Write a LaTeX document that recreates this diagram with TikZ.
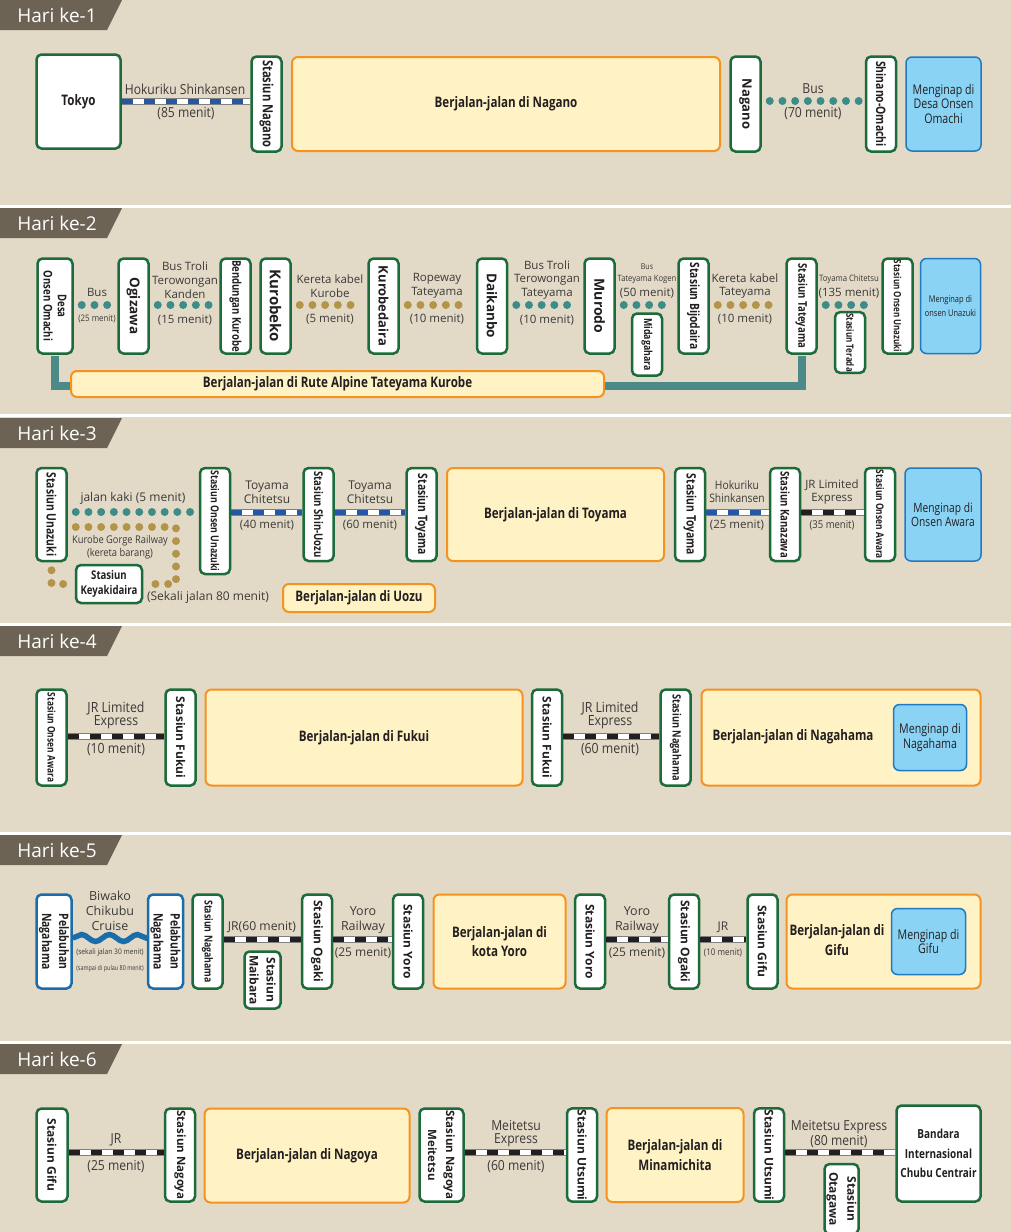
\documentclass[tikz,border=0pt]{standalone}
\usepackage{fontspec}
\setmainfont{Open Sans}
\newfontfamily\condfont[FakeStretch=0.8]{Open Sans}
\newfontfamily\narrowfont[FakeStretch=0.88]{Open Sans}
\usetikzlibrary{positioning}
\usetikzlibrary{decorations.pathmorphing}
\newcommand\fsz[1]{\fontsize{#1}{#1}\selectfont\setlength\baselineskip{1.2\baselineskip}}
\newcommand\fszl[2]{\fontsize{#1}{#2}\selectfont}
\definecolor{bgbeige}{HTML}{E2DAC7}
\definecolor{tabfill}{HTML}{6D6355}
\definecolor{stgreen}{HTML}{1C6B3B}
\definecolor{boxtext}{HTML}{231F20}
\definecolor{labeltext}{HTML}{3C3A38}
\definecolor{tourline}{HTML}{F6921E}
\definecolor{tourfill}{HTML}{FFF2C4}
\definecolor{stayline}{HTML}{2179C1}
\definecolor{stayfill}{HTML}{8AD3F4}
\definecolor{busteal}{HTML}{3D8C88}
\definecolor{gorgegold}{HTML}{B39449}
\definecolor{shinkblue}{HTML}{2557A4}
\definecolor{railgrey}{HTML}{808080}
\definecolor{railblack}{HTML}{231F20}
\definecolor{portblue}{HTML}{1B6DAA}
\definecolor{alpteal}{HTML}{4B8A87}
\tikzset{
    stn/.style = {draw=stgreen, line width=2.5pt, fill=white, rounded corners=5pt, inner sep=1pt, align=center, text=boxtext, font=\condfont\bfseries\fsz{#1}},
    stn/.default = 13,
    wstn/.style = {stn, font=\bfseries\fsz{#1}},
    wstn/.default = 12,
    vstn/.style = {stn=#1, rotate=-90, minimum width=95, minimum height=30},
    vstn/.default = 13,
    vwstn/.style = {wstn=#1, rotate=-90, minimum width=95, minimum height=30},
    vwstn/.default = 12,
    tour/.style = {draw=tourline, line width=2pt, fill=tourfill, rounded corners=6pt, align=center, text=boxtext, font=\condfont\bfseries\fszl{14.5}{19.5}},
    tourtxt/.style = {align=center, text=boxtext, font=\condfont\bfseries\fszl{14.5}{19.5}},
    stay/.style = {draw=stayline, line width=1.5pt, fill=stayfill, rounded corners=6pt, align=center, text=boxtext, font=\condfont\fszl{#1}{14.5}},
    stay/.default = 13.3,
    lbl/.style = {text=labeltext, align=center, inner sep=0pt, font=\fsz{#1}},
    lbl/.default = 11.5,
    clbl/.style = {text=labeltext, align=center, inner sep=0pt, font=\narrowfont\fszl{#1}{13}},
    clbl/.default = 13.8,
    daytab/.style = {text=white, inner sep=0pt, font=\fsz{19}},
    bus/.style = {draw=busteal, line width=8pt, line cap=round, dash pattern=on 0pt off 12.7pt, shorten <=8pt, shorten >=6pt},
    gorge/.style = {bus, draw=gorgegold},
    shink/.style = {draw=shinkblue, line width=5pt, dash pattern=on 11pt off 11pt,
        preaction={draw=railgrey, solid, line width=7pt},
        preaction={draw=white, solid, line width=5pt}},
    jr/.style = {shink, draw=railblack},
    wave/.style = {draw=portblue, line width=5.5pt, decorate, decoration={snake, segment length=28pt, amplitude=3.5pt}},
    alpine/.style = {draw=alpteal, line width=8pt, shorten <=1.2pt, shorten >=1.2pt}
}
\begin{document}
\begin{tikzpicture}[x=1pt, y=-1pt]
\useasboundingbox (0,0) rectangle (1011,1232);
\fill[bgbeige] (0,0) rectangle (1011,1232);
\foreach \y in {205,414,623,832,1041}
  \fill[white] (0,\y) rectangle (1011,\y+3);
% day tabs
\foreach \d/\y in {1/0,2/208,3/418,4/626,5/835,6/1044}{
  \fill[tabfill] (0,\y) -- (122,\y) -- (107,\y+30) -- (0,\y+30) -- cycle;
  \node[daytab] (hari\d) at (57,\y+15) {Hari ke-\d};
}

% day 1
\coordinate (r1) at (0,101);
\node[stn=14.5, minimum width=84, minimum height=94] (tokyo) at (78.5,101.5) {Tokyo};
\node[vstn=14] (ngnst) at (266.5,104) {Stasiun Nagano};
\node[tour, minimum width=428, minimum height=94] (tngn) at (506,104) {Berjalan-jalan di Nagano};
\node[vwstn=13] (ngn) at (745.5,104) {Nagano};
\node[vstn] (shom) at (881,104) {Shinano-Omachi};
\node[stay, minimum width=75, minimum height=94] (stay1) at (943.5,104) {Menginap di\\Desa Onsen\\Omachi};
\draw[shink] (tokyo.east |- r1) -- (ngnst.south |- r1);
\draw[bus] (ngn.north |- r1) -- (shom.south |- r1);
\node[clbl] (l1a) at (185,89) {Hokuriku Shinkansen};
\node[clbl] (l1b) at (186,114) {(85 menit)};
\node[clbl] (l1c) at (813,89) {Bus};
\node[clbl] (l1d) at (813,114) {(70 menit)};

% day 2
\coordinate (r2) at (0,305);
\node[vstn=12, minimum height=35] (desa) at (55,306) {Desa\\Onsen Omachi};
\node[vwstn=13.5] (ogi) at (133.5,306) {Ogizawa};
\node[vstn=12] (bdk) at (235.5,306) {Bendungan Kurobe};
\node[vwstn=15] (kbk) at (275.5,306) {Kurobeko};
\node[vwstn=13] (kbd) at (383.5,306) {Kurobedaira};
\node[vwstn=13.5] (dkb) at (492,306) {Daikanbo};
\node[vwstn=14] (mrd) at (599.5,306) {Murodo};
\node[vstn=11, minimum width=62] (mdg) at (647,344.5) {Midagahara};
\node[vstn=12.8] (bjd) at (693.5,306) {Stasiun Bijodaira};
\node[vstn=12] (tty) at (801.5,306) {Stasiun Tateyama};
\node[vstn=10, minimum width=58] (trd) at (850,342.5) {Stasiun Terada};
\node[vstn=10] (unz2) at (897.5,306) {Stasiun Onsen Unazuki};
\node[stay=9.3, minimum width=60, minimum height=95] (stay2) at (950.5,306) {Menginap di\\onsen Unazuki};
\draw[alpine] (desa.east) -- ++(0,31) -| (tty.east);
\node[tour, minimum width=533, minimum height=26] (talp) at (337.5,384) {Berjalan-jalan di Rute Alpine Tateyama Kurobe};
\draw[bus] (desa.north |- r2) -- (ogi.south |- r2);
\draw[bus] (ogi.north |- r2) -- (bdk.south |- r2);
\draw[gorge] (kbk.north |- r2) -- (kbd.south |- r2);
\draw[gorge] (kbd.north |- r2) -- (dkb.south |- r2);
\draw[bus] (dkb.north |- r2) -- (mrd.south |- r2);
\draw[bus] (mrd.north |- r2) -- (bjd.south |- r2);
\draw[gorge] (bjd.north |- r2) -- (tty.south |- r2);
\draw[bus] (tty.north |- r2) -- (unz2.south |- r2);
\node[lbl] (l2a) at (97,292) {Bus};
\node[clbl=9] (l2b) at (97,319) {(25 menit)};
\node[lbl] (l2c) at (185,280) {Bus Troli\\Terowongan\\Kanden};
\node[lbl] (l2d) at (185,320) {(15 menit)};
\node[lbl] (l2e) at (330,286) {Kereta kabel\\Kurobe};
\node[lbl] (l2f) at (330,319) {(5 menit)};
\node[lbl] (l2g) at (437,286) {Ropeway\\Tateyama};
\node[lbl] (l2h) at (437,319) {(10 menit)};
\node[lbl] (l2i) at (547,280) {Bus Troli\\Terowongan\\Tateyama};
\node[lbl] (l2j) at (547,320) {(10 menit)};
\node[clbl=8] (l2k) at (647,267) {Bus};
\node[clbl=8.7] (l2l) at (647,279) {Tateyama Kogen};
\node[lbl] (l2m) at (647,293) {(50 menit)};
\node[lbl] (l2n) at (745,286) {Kereta kabel\\Tateyama};
\node[lbl] (l2o) at (745,319) {(10 menit)};
\node[clbl=8.8] (l2p) at (849,279) {Toyama Chitetsu};
\node[lbl] (l2q) at (849,293) {(135 menit)};

% day 3
\coordinate (r3) at (0,512);
\coordinate (gorge) at (176,527);
\node[vstn=13, minimum width=93] (uzk) at (51.5,514.5) {Stasiun Unazuki};
\node[vstn=11, minimum width=106] (ounz) at (215,521) {Stasiun Onsen Unazuki};
\node[vstn=12, minimum width=93] (shu) at (318.5,514.5) {Stasiun Shin-Uozu};
\node[vstn=13, minimum width=93] (toy1) at (421.5,514.5) {Stasiun Toyama};
\node[tour, minimum width=217, minimum height=93] (ttoy) at (555.5,514.5) {Berjalan-jalan di Toyama};
\node[vstn=13, minimum width=93] (toy2) at (690,514.5) {Stasiun Toyama};
\node[vstn=12, minimum width=93] (knz) at (785,514.5) {Stasiun Kanazawa};
\node[vstn=10.5, minimum width=93] (awr3) at (880,514.5) {Stasiun Onsen Awara};
\node[stay=12.8, minimum width=76, minimum height=93] (stay3) at (943,514.5) {Menginap di\\Onsen Awara};
\node[stn=12, minimum width=66, minimum height=38] (kyk) at (109,584) {Stasiun\\Keyakidaira};
\node[tour, minimum width=152, minimum height=28] (tuoz) at (359,598) {Berjalan-jalan di Uozu};
\draw[bus] (uzk.north |- r3) -- (ounz.south |- r3);
\draw[gorge] (uzk.north |- gorge) -- (gorge) |- (kyk.east);
\draw[gorge] (uzk.east) |- (kyk.west);
\draw[shink] (ounz.north |- r3) -- (shu.south |- r3);
\draw[shink] (shu.north |- r3) -- (toy1.south |- r3);
\draw[shink] (toy2.north |- r3) -- (knz.south |- r3);
\draw[jr] (knz.north |- r3) -- (awr3.south |- r3);
\node[lbl=12] (l3a) at (133,498) {jalan kaki (5 menit)};
\node[clbl=10.6] (l3b) at (120,547) {Kurobe Gorge Railway\\(kereta barang)};
\node[lbl=12] (l3c) at (208,597) {(Sekali jalan 80 menit)};
\node[lbl=12] (l3d) at (267,492) {Toyama\\Chitetsu};
\node[lbl] (l3e) at (267,525) {(40 menit)};
\node[lbl=12] (l3f) at (370,492) {Toyama\\Chitetsu};
\node[lbl] (l3g) at (370,525) {(60 menit)};
\node[clbl=11.7] (l3h) at (737,492) {Hokuriku\\Shinkansen};
\node[lbl] (l3i) at (737,525) {(25 menit)};
\node[lbl] (l3j) at (832,492) {JR Limited\\Express};
\node[clbl=10.8] (l3k) at (832,525) {(35 menit)};

% day 4
\coordinate (r4) at (0,736);
\node[vstn=10.5, minimum width=96] (awr4) at (51.5,737.5) {Stasiun Onsen Awara};
\node[vwstn, minimum width=96] (fki1) at (180.5,737.5) {Stasiun Fukui};
\node[tour, minimum width=317, minimum height=96] (tfki) at (364,737.5) {Berjalan-jalan di Fukui};
\node[vwstn, minimum width=96] (fki2) at (547,737.5) {Stasiun Fukui};
\node[vstn=11.5, minimum width=96] (ngh4) at (675.5,737.5) {Stasiun Nagahama};
\node[tour, minimum width=279, minimum height=96] (tngh) at (841,737.5) {};
\node[tourtxt] (tnghtxt) at (793,737) {Berjalan-jalan di Nagahama};
\node[stay, minimum width=73, minimum height=66] (stay4) at (930,737.5) {Menginap di\\Nagahama};
\draw[jr] (awr4.north |- r4) -- (fki1.south |- r4);
\draw[jr] (fki2.north |- r4) -- (ngh4.south |- r4);
\node[clbl=14] (l4a) at (116,715) {JR Limited\\Express};
\node[clbl=14] (l4b) at (116,749) {(10 menit)};
\node[clbl=14] (l4c) at (610,715) {JR Limited\\Express};
\node[clbl=14] (l4d) at (610,749) {(60 menit)};

% day 5
\coordinate (r5) at (0,939);
\coordinate (w5) at (0,938);
\node[vstn, draw=portblue, minimum width=94, minimum height=35, font=\condfont\bfseries\fszl{13}{17}] (pn1) at (54,941.5) {Pelabuhan\\Nagahama};
\node[vstn, draw=portblue, minimum width=94, minimum height=35, font=\condfont\bfseries\fszl{13}{17}] (pn2) at (165.5,941.5) {Pelabuhan\\Nagahama};
\node[vstn=11, minimum width=94] (ngh5) at (207.5,941.5) {Stasiun Nagahama};
\node[vwstn, minimum width=57, minimum height=36, font=\bfseries\fszl{12}{17}] (mbr) at (262.5,980) {Stasiun\\Maibara};
\node[vwstn, minimum width=94] (ogk1) at (317,941.5) {Stasiun Ogaki};
\node[vwstn, minimum width=94] (yr1) at (408,941.5) {Stasiun Yoro};
\node[tour, minimum width=132, minimum height=94] (tyr) at (499.5,941.5) {Berjalan-jalan di\\kota Yoro};
\node[vwstn, minimum width=94] (yr2) at (590,941.5) {Stasiun Yoro};
\node[vwstn, minimum width=94] (ogk2) at (684,941.5) {Stasiun Ogaki};
\node[vwstn, minimum width=94] (gfu5) at (762.5,941.5) {Stasiun Gifu};
\node[tour, minimum width=194, minimum height=94] (tgfu) at (883.5,941.5) {};
\node[tourtxt] (tgfutxt) at (837,940) {Berjalan-jalan di\\Gifu};
\node[stay, minimum width=74, minimum height=66] (stay5) at (928.5,941.5) {Menginap di\\Gifu};
\draw[wave] (pn1.north |- w5) -- (pn2.south |- w5);
\draw[jr] (ngh5.north |- r5) -- (ogk1.south |- r5);
\draw[jr] (ogk1.north |- r5) -- (yr1.south |- r5);
\draw[jr] (yr2.north |- r5) -- (ogk2.south |- r5);
\draw[jr] (ogk2.north |- r5) -- (gfu5.south |- r5);
\node[lbl=12.5] (l5a) at (110,911) {Biwako\\Chikubu\\Cruise};
\node[clbl=7.6] (l5b) at (110,953) {(sekali jalan 30 menit)};
\node[clbl, font=\condfont\fszl{6.8}{8}] (l5c) at (110,969) {(sampai di pulau 80 menit)};
\node[lbl=12.2] (l5d) at (262,927) {JR(60 menit)};
\node[lbl=12.5] (l5e) at (363,920) {Yoro\\Railway};
\node[lbl=12] (l5f) at (363,953) {(25 menit)};
\node[lbl=12.5] (l5g) at (637,920) {Yoro\\Railway};
\node[lbl=12] (l5h) at (637,953) {(25 menit)};
\node[lbl=12] (l5i) at (723,927) {JR};
\node[clbl=9.2] (l5j) at (723,953) {(10 menit)};

% day 6
\coordinate (r6) at (0,1152);
\node[vwstn, minimum width=93, minimum height=31] (gfu6) at (52,1155) {Stasiun Gifu};
\node[vwstn=11.5, minimum width=93] (ngy) at (180,1155) {Stasiun Nagoya};
\node[tour, minimum width=205, minimum height=94] (tngy) at (307,1155.5) {Berjalan-jalan di Nagoya};
\node[vwstn, minimum width=93, minimum height=44, font=\bfseries\fszl{11.5}{18}] (ngym) at (441.5,1155) {Stasiun Nagoya\\Meitetsu};
\node[vwstn, minimum width=93] (uts1) at (582,1155) {Stasiun Utsumi};
\node[tour, minimum width=137, minimum height=94] (tmmc) at (675,1155) {Berjalan-jalan di\\Minamichita};
\node[vwstn, minimum width=93] (uts2) at (769,1155) {Stasiun Utsumi};
\node[vwstn, minimum width=70, minimum height=34, font=\bfseries\fszl{12}{18}] (otg) at (841.5,1199) {Stasiun\\Otagawa};
\node[stn, minimum width=84, minimum height=96, font=\condfont\bfseries\fszl{12.5}{19.5}] (cbu) at (938.5,1153.5) {Bandara\\Internasional\\Chubu Centrair};
\draw[jr] (gfu6.north |- r6) -- (ngy.south |- r6);
\draw[jr] (ngym.north |- r6) -- (uts1.south |- r6);
\draw[jr] (uts2.north |- r6) -- (cbu.west |- r6);
\node[clbl] (l6a) at (116,1140) {JR};
\node[clbl] (l6b) at (116,1167) {(25 menit)};
\node[clbl] (l6c) at (516,1134) {Meitetsu\\Express};
\node[clbl] (l6d) at (516,1167) {(60 menit)};
\node[clbl] (l6e) at (839,1134) {Meitetsu Express\\(80 menit)};
\end{tikzpicture}
\end{document}
